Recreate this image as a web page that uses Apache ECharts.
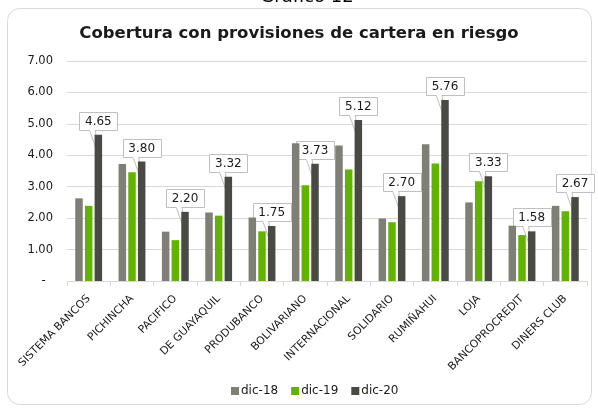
<!DOCTYPE html>
<html>
<head>
<meta charset="utf-8">
<script src="https://cdn.jsdelivr.net/npm/echarts@6/dist/echarts.min.js"></script>
<style>
  html, body { margin: 0; padding: 0; background: #fff; }
  #main { width: 598px; height: 408px; }
</style>
</head>
<body>
<div id="main"></div>
<script>
// categorias (bancos)
var bancos = ['SISTEMA BANCOS', 'PICHINCHA', 'PACIFICO', 'DE GUAYAQUIL', 'PRODUBANCO', 'BOLIVARIANO',
  'INTERNACIONAL', 'SOLIDARIO', 'RUMIÑAHUI', 'LOJA', 'BANCOPROCREDIT', 'DINERS CLUB'];
// series
var dic18 = [2.63, 3.72, 1.57, 2.18, 2.02, 4.38, 4.31, 1.99, 4.35, 2.50, 1.76, 2.39];
var dic19 = [2.39, 3.46, 1.30, 2.08, 1.58, 3.05, 3.55, 1.87, 3.74, 3.17, 1.46, 2.22];
var dic20 = [4.65, 3.80, 2.20, 3.32, 1.75, 3.73, 5.12, 2.70, 5.76, 3.33, 1.58, 2.67];

var fuente = 'DejaVu Sans';
var anchoBarra = 7.5;
var hueco = 2.2;

// etiqueta tipo "globo" de excel encima de la barra dic-20
function globo(params, api) {
  var idx = api.value(0);
  var val = api.value(1);
  var p = api.coord([idx, val]);
  var bx = p[0] + anchoBarra + hueco;
  var top = p[1];
  var w = 38, h = 18;
  var by = top - 5 - h;
  var gris = '#bfbfbf';
  return {
    type: 'group',
    children: [
      {
        type: 'polygon',
        shape: { points: [[bx - 9, top - 5], [bx, top + 20], [bx - 3, top - 5]] },
        style: { fill: '#fff', stroke: gris, lineWidth: 1 }
      },
      {
        type: 'rect',
        shape: { x: Math.round(bx - w / 2) + 0.5, y: Math.round(by) + 0.5, width: w, height: h },
        style: { fill: '#fff', stroke: gris, lineWidth: 1 }
      },
      {
        type: 'line',
        shape: { x1: bx - 8.5, y1: Math.round(by) + h + 0.5, x2: bx - 3.5, y2: Math.round(by) + h + 0.5 },
        style: { stroke: '#fff', lineWidth: 1.5 }
      },
      {
        type: 'text',
        x: bx, y: Math.round(by) + h / 2 + 1,
        style: {
          text: val.toFixed(2), font: '12px "DejaVu Sans"', fill: '#1a1a1a',
          textAlign: 'center', textVerticalAlign: 'middle'
        }
      }
    ]
  };
}

var option = {
  animation: false,
  textStyle: { fontFamily: fuente },
  graphic: [
    {
      type: 'rect',
      shape: { x: 7.5, y: 8.5, width: 584, height: 396, r: 12 },
      style: { fill: '#fff', stroke: '#d9d9d9', lineWidth: 1 },
      z: -10
    },
    {
      type: 'text',
      x: 307, y: -12,
      style: { text: 'Gráfico 12', font: '18px "DejaVu Sans"', fill: '#000', textAlign: 'center' }
    }
  ],
  title: {
    text: 'Cobertura con provisiones de cartera en riesgo',
    left: 'center',
    top: 20,
    textStyle: { fontFamily: fuente, fontWeight: 'bold', fontSize: 16.5, color: '#1a1a1a' }
  },
  legend: {
    bottom: 6,
    left: 226,
    itemWidth: 8,
    itemHeight: 8,
    itemGap: 13,
    icon: 'rect',
    textStyle: { fontFamily: fuente, fontSize: 12, color: '#1a1a1a', padding: [0, 0, 0, -3] },
    data: ['dic-18', 'dic-19', 'dic-20']
  },
  grid: { left: 67, right: 11, top: 61, bottom: 127 },
  xAxis: {
    type: 'category',
    data: bancos,
    axisLine: { lineStyle: { color: '#d9d9d9' } },
    axisTick: { show: true, length: 5, lineStyle: { color: '#d9d9d9' } },
    axisLabel: { rotate: 45, interval: 0, fontSize: 10.8, color: '#1a1a1a', margin: 16 }
  },
  yAxis: {
    type: 'value',
    min: 0,
    max: 7,
    interval: 1,
    axisLine: { show: false },
    axisTick: { show: false },
    splitLine: { lineStyle: { color: '#d9d9d9' } },
    axisLabel: {
      fontSize: 11.5, color: '#1a1a1a', margin: 14,
      formatter: function (v) { return v === 0 ? '-  ' : v.toFixed(2); }
    }
  },
  series: [
    {
      name: 'dic-18', type: 'bar', data: dic18,
      barWidth: anchoBarra, barGap: '29%',
      itemStyle: { color: '#7f7f75' }
    },
    {
      name: 'dic-19', type: 'bar', data: dic19,
      barWidth: anchoBarra, barGap: '29%',
      itemStyle: { color: '#62b300' }
    },
    {
      name: 'dic-20', type: 'bar', data: dic20,
      barWidth: anchoBarra, barGap: '29%',
      itemStyle: { color: '#4a4a44' }
    },
    {
      name: 'etiquetas', type: 'custom',
      renderItem: globo,
      data: dic20.map(function (v, i) { return [i, v]; }),
      silent: true
    }
  ]
};

var myChart = echarts.init(document.getElementById('main'));
myChart.setOption(option);
</script>
</body>
</html>
